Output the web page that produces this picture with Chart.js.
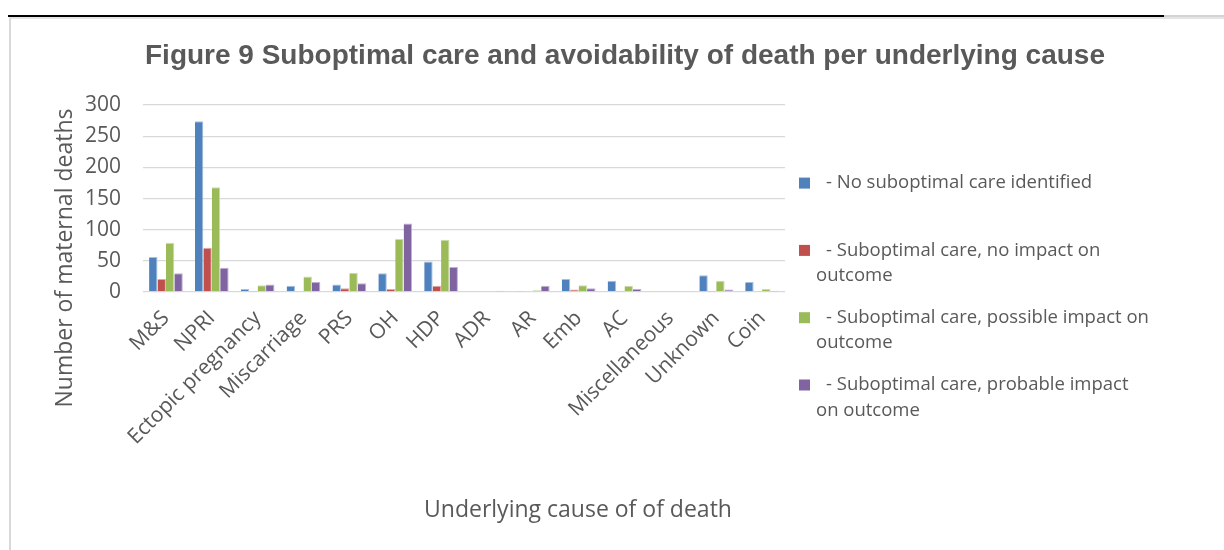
<!DOCTYPE html>
<html>
<head>
<meta charset="utf-8">
<script src="https://cdn.jsdelivr.net/npm/chart.js@4"></script>
<style>
  html, body { margin: 0; padding: 0; background: #fff; }
  body { width: 1224px; height: 550px; position: relative; overflow: hidden; }
  .frame { position: absolute; left: 9px; top: 17px; width: 1400px; height: 700px;
           border-left: 2px solid #d9d9d9; border-top: 2px solid #e4e4e4; }
  .rule { position: absolute; left: 8px; top: 15px; width: 1156px; height: 2px; background: #000; }
  .rule-tail { position: absolute; left: 1164px; top: 15px; width: 60px; height: 2px; background: #d4d4d4; }
  #wrap { position: absolute; left: 0; top: 0; width: 1224px; height: 550px; }
</style>
</head>
<body>
<div class="frame"></div>
<div class="rule"></div>
<div class="rule-tail"></div>
<div id="wrap"><canvas id="chart"></canvas></div>
<script>
// Underlying causes of maternal death
const causes = ['M&S', 'NPRI', 'Ectopic pregnancy', 'Miscarriage', 'PRS', 'OH', 'HDP',
                'ADR', 'AR', 'Emb', 'AC', 'Miscellaneous', 'Unknown', 'Coin'];

// Number of maternal deaths per care classification
const noSuboptimalCare   = [56, 274, 5, 10, 12, 30, 49, 0, 1, 21, 18, 0, 27, 16];
const careNoImpact       = [21, 71, 1, 0, 6, 5, 10, 0, 0, 4, 2, 0, 2, 0];
const carePossibleImpact = [79, 168, 11, 25, 31, 85, 84, 0, 3, 11, 10, 0, 18, 5];
const careProbableImpact = [30, 39, 12, 16, 14, 110, 40, 2, 10, 6, 5, 0, 4, 2];

// Legend entries, already broken into lines
const legendLines = [
  ['- No suboptimal care identified'],
  ['- Suboptimal care, no impact on', 'outcome'],
  ['- Suboptimal care, possible impact on', 'outcome'],
  ['- Suboptimal care, probable impact', 'on outcome']
];

const yMax = 300;
const yStep = 50;

const TEXT = '#595959';
const FONT = '"Open Sans", "Liberation Sans", sans-serif';
const seriesColors = ['#4F81BD', '#C0504D', '#9BBB59', '#8064A2'];
const seriesEdges  = ['#a7c0de', '#e0a8a6', '#cddcac', '#bfb1d0'];

// Legend to the right of the plot, plus the two axis captions
const sideText = {
  id: 'sideText',
  afterDraw(chart) {
    const ctx = chart.ctx;
    const area = chart.chartArea;
    ctx.save();
    ctx.fillStyle = TEXT;
    ctx.textBaseline = 'middle';

    // legend
    ctx.font = '18.5px ' + FONT;
    ctx.textAlign = 'left';
    const boxX = area.right + 14;
    chart.data.datasets.forEach((ds, i) => {
      const y = area.top + 78 + i * 67.3;
      ctx.fillStyle = ds.backgroundColor;
      ctx.fillRect(boxX, y - 5.5, 11, 11);
      ctx.fillStyle = TEXT;
      legendLines[i].forEach((line, j) => {
        ctx.fillText(line, j === 0 ? boxX + 27 : boxX + 17, y + j * 25.5);
      });
    });

    // axis captions
    ctx.font = '23px ' + FONT;
    ctx.textAlign = 'center';
    ctx.fillText('Underlying cause of of death', 578, 510);
    ctx.translate(65, 258);
    ctx.rotate(-Math.PI / 2);
    ctx.fillText('Number of maternal deaths', 0, 0);
    ctx.restore();
  }
};

const makeSeries = (i, data) => ({
  label: legendLines[i].join(' '),
  data: data,
  backgroundColor: seriesColors[i],
  borderColor: seriesEdges[i],
  borderWidth: { top: 1, right: 1, left: 0, bottom: 0 },
  borderSkipped: 'bottom',
  categoryPercentage: 0.735,
  barPercentage: 1.0
});

new Chart(document.getElementById('chart'), {
  type: 'bar',
  data: {
    labels: causes,
    datasets: [
      makeSeries(0, noSuboptimalCare),
      makeSeries(1, careNoImpact),
      makeSeries(2, carePossibleImpact),
      makeSeries(3, careProbableImpact)
    ]
  },
  options: {
    responsive: true,
    maintainAspectRatio: false,
    animation: false,
    layout: { padding: { left: 26, right: 0, top: 0, bottom: 0 } },
    plugins: {
      legend: { display: false },
      tooltip: { enabled: false },
      title: {
        display: true,
        text: 'Figure 9 Suboptimal care and avoidability of death per underlying cause',
        color: TEXT,
        font: { family: '"Liberation Sans", Arial, sans-serif', size: 28, weight: 'bold', lineHeight: 1.2 },
        padding: { top: 39, bottom: 32.5 }
      }
    },
    scales: {
      x: {
        grid: { display: false },
        border: { display: false },
        ticks: {
          color: TEXT,
          font: { family: FONT, size: 21 },
          autoSkip: false,
          minRotation: 45,
          maxRotation: 45,
          padding: 6
        },
        afterFit(scale) { scale.height = 258; }
      },
      y: {
        min: 0,
        max: yMax,
        grid: { color: '#d9d9d9', lineWidth: 1.3, drawTicks: false },
        border: { display: false },
        ticks: {
          stepSize: yStep,
          color: TEXT,
          font: { family: FONT, size: 21 },
          padding: 22
        },
        afterFit(scale) { scale.width = 117; }
      },
      legendSpace: {
        type: 'linear',
        position: 'right',
        grid: { display: false },
        border: { display: false },
        ticks: { display: false },
        afterFit(scale) { scale.width = 439; }
      }
    }
  },
  plugins: [sideText]
});
</script>
</body>
</html>
